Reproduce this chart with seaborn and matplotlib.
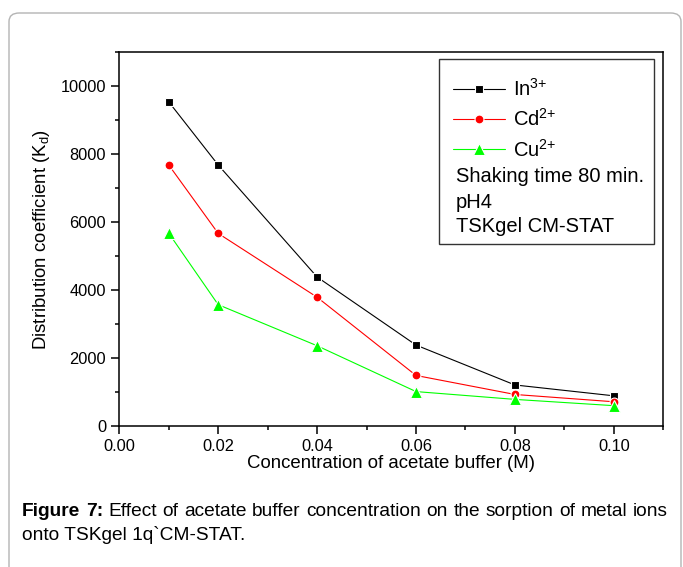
import matplotlib
matplotlib.use("Agg")
import matplotlib.pyplot as plt
import seaborn as sns
import pandas as pd
from matplotlib.ticker import MultipleLocator, FormatStrFormatter
from matplotlib.patches import Rectangle, FancyBboxPatch

# ---------------- data ----------------
concentration = [0.01, 0.02, 0.04, 0.06, 0.08, 0.10]
kd_in = [9540, 7680, 4380, 2375, 1200, 880]
kd_cd = [7680, 5665, 3785, 1480, 920, 705]
kd_cu = [5670, 3565, 2355, 1005, 775, 590]
series_labels = [r"In$^{3{+}}$", r"Cd$^{2{+}}$", r"Cu$^{2{+}}$"]
x_ticks = [0.00, 0.02, 0.04, 0.06, 0.08, 0.10]
y_ticks = [0, 2000, 4000, 6000, 8000, 10000]
info_lines = ["Shaking time 80 min.", "pH4", "TSKgel CM-STAT"]
x_label = "Concentration of acetate buffer (M)"
y_label = r"Distribution coefficient (K$_d$)"
caption_bold = "Figure 7:"
caption_line1 = "Effect of acetate buffer concentration on the sorption of metal ions"
caption_line2 = "onto TSKgel 1q`CM-STAT."

# ---------------- style ----------------
sns.set_theme(style="white")
plt.rcParams["font.family"] = ["Liberation Sans", "DejaVu Sans"]
plt.rcParams["mathtext.fontset"] = "custom"
plt.rcParams["mathtext.rm"] = "Liberation Sans"
plt.rcParams["mathtext.it"] = "Liberation Sans"
plt.rcParams["mathtext.bf"] = "Liberation Sans:bold"

W, H = 683, 567
fig = plt.figure(figsize=(W / 100, H / 100), dpi=100)
fig.patch.set_facecolor("white")


def fx(px):
    return px / W


def fy(py):
    return 1 - py / H


# outer rounded border
border = FancyBboxPatch((fx(9), fy(600)), fx(672), (600 - 13) / H,
                        boxstyle="round,pad=0,rounding_size=0.015",
                        transform=fig.transFigure, facecolor="none",
                        edgecolor="#b4b4b4", linewidth=1.0, clip_on=False)
fig.patches.append(border)

left, right, top, bottom = 119.3, 663.3, 52.3, 425.7
ax = fig.add_axes([fx(left), fy(bottom), fx(right - left), (bottom - top) / H])
ax.set_facecolor("white")

df = pd.DataFrame({"conc": concentration, "In": kd_in, "Cd": kd_cd, "Cu": kd_cu})
specs = [("In", "black", "s", 6.0), ("Cd", "#ff0000", "o", 6.4), ("Cu", "#00ff00", "^", 8.3)]
for (col, color, marker, ms), lab in zip(specs, series_labels):
    sns.lineplot(data=df, x="conc", y=col, ax=ax, color=color, marker=marker,
                 markersize=ms, markeredgewidth=0.8, markeredgecolor="white",
                 linewidth=0.8, label=lab)

ax.set_xlim(0, 0.11)
ax.set_ylim(0, 11000)
ax.set_xticks(x_ticks)
ax.set_yticks(y_ticks)
ax.xaxis.set_major_formatter(FormatStrFormatter("%.2f"))
ax.xaxis.set_minor_locator(MultipleLocator(0.01))
ax.yaxis.set_minor_locator(MultipleLocator(1000))
ax.tick_params(which="both", direction="out", top=False, right=False,
               bottom=True, left=True, width=1.1, color="black")
ax.tick_params(which="major", length=6, labelsize=11.8, pad=3.5, labelcolor="black")
ax.tick_params(which="minor", length=3.2)
for s in ax.spines.values():
    s.set_visible(True)
    s.set_color("black")
    s.set_linewidth(1.1)
ax.grid(False)

ax.set_xlabel(x_label, fontsize=13.4, color="black")
ax.set_ylabel(y_label, fontsize=13.4, color="black")
ax.xaxis.set_label_coords(0.5, (bottom - 464) / (bottom - top))
ax.xaxis.label.set_verticalalignment("center")
ax.yaxis.set_label_coords((41 - left) / (right - left), 0.5)
ax.yaxis.label.set_verticalalignment("center")

# legend (series) inside a manual box
handles, labels = ax.get_legend_handles_labels()
leg = ax.legend(handles, labels, loc="center left",
                bbox_to_anchor=(fx(453), fy(119)), bbox_transform=fig.transFigure,
                frameon=False, fontsize=14.5, handlelength=2.6, handletextpad=0.4,
                labelspacing=0.42, borderpad=0, borderaxespad=0)
for t in leg.get_texts():
    t.set_color("black")

box = Rectangle((fx(439), fy(244)), fx(654 - 439), (244 - 59) / H,
                transform=fig.transFigure, facecolor="none",
                edgecolor="#333333", linewidth=1.0)
fig.patches.append(box)

for txt, yy in zip(info_lines, [176, 202, 226]):
    fig.text(fx(456), fy(yy), txt, fontsize=14.5, ha="left", va="center", color="black")

# caption (justified first line)
fig.canvas.draw()
renderer = fig.canvas.get_renderer()
cap_size = 13.8
x0, x1 = 22, 668
y1, y2 = 512, 535
words = [(w, "bold") for w in caption_bold.split()] + [(w, "normal") for w in caption_line1.split()]
texts = []
for w, weight in words:
    t = fig.text(0, fy(y1), w, fontsize=cap_size, fontweight=weight, ha="left",
                 va="center", color="black")
    texts.append(t)
widths = [t.get_window_extent(renderer).width for t in texts]
gap = (x1 - x0 - sum(widths)) / (len(texts) - 1)
cur = x0
for t, wd in zip(texts, widths):
    t.set_x(fx(cur))
    cur += wd + gap
fig.text(fx(x0), fy(y2), caption_line2, fontsize=cap_size, ha="left", va="center",
         color="black")

fig.savefig("out.png", dpi=100, facecolor="white")
